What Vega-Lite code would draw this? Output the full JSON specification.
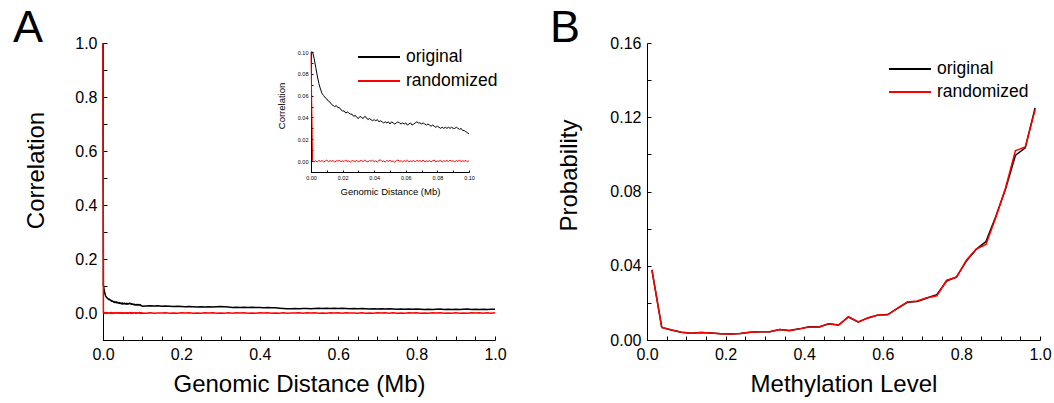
{
  "$schema": "https://vega.github.io/schema/vega-lite/v6.json",
  "background": "white",
  "padding": {"left": 13, "top": 6, "right": 5, "bottom": 5},
  "config": {
    "view": {"stroke": null},
    "font": "Liberation Sans",
    "axis": {
      "grid": false, "domainColor": "#000000", "domainWidth": 1, "tickColor": "#000000", "tickWidth": 1, "tickSize": -4,
      "labelColor": "#000000", "titleColor": "#000000", "labelFont": "Liberation Sans", "titleFont": "Liberation Sans",
      "labelFontSize": 16, "titleFontSize": 24, "titleFontWeight": "normal", "labelPadding": 10,
      "labelFlush": false, "labelOverlap": false, "labelBound": false, "titleBaseline": "alphabetic"
    },
    "legend": {
      "labelFont": "Liberation Sans", "labelFontSize": 17.5, "labelColor": "#000000", "padding": 0,
      "symbolType": "stroke", "symbolSize": 1764, "symbolStrokeWidth": 2, "labelOffset": 5, "rowPadding": 0
    }
  },
  "spacing": 152,
  "bounds": "flush",
  "resolve": {"scale": {"color": "independent"}, "legend": {"color": "independent"}},
  "datasets": {
    "a": [
      {"s":"original","d":0,"v":1.0},
      {"s":"original","d":0.001,"v":0.100},{"s":"original","d":0.002,"v":0.094},{"s":"original","d":0.003,"v":0.086},{"s":"original","d":0.004,"v":0.078},{"s":"original","d":0.005,"v":0.071},
      {"s":"original","d":0.006,"v":0.066},{"s":"original","d":0.007,"v":0.062},{"s":"original","d":0.008,"v":0.060},{"s":"original","d":0.009,"v":0.058},{"s":"original","d":0.010,"v":0.057},
      {"s":"original","d":0.011,"v":0.055},{"s":"original","d":0.012,"v":0.054},{"s":"original","d":0.013,"v":0.052},{"s":"original","d":0.014,"v":0.051},{"s":"original","d":0.015,"v":0.050},
      {"s":"original","d":0.016,"v":0.051},{"s":"original","d":0.017,"v":0.049},{"s":"original","d":0.018,"v":0.049},{"s":"original","d":0.019,"v":0.047},{"s":"original","d":0.020,"v":0.046},
      {"s":"original","d":0.021,"v":0.046},{"s":"original","d":0.022,"v":0.044},{"s":"original","d":0.023,"v":0.045},{"s":"original","d":0.024,"v":0.044},{"s":"original","d":0.025,"v":0.043},
      {"s":"original","d":0.026,"v":0.043},{"s":"original","d":0.027,"v":0.041},{"s":"original","d":0.028,"v":0.042},{"s":"original","d":0.029,"v":0.040},{"s":"original","d":0.030,"v":0.039},
      {"s":"original","d":0.031,"v":0.041},{"s":"original","d":0.032,"v":0.040},{"s":"original","d":0.033,"v":0.039},{"s":"original","d":0.034,"v":0.041},{"s":"original","d":0.035,"v":0.040},
      {"s":"original","d":0.036,"v":0.038},{"s":"original","d":0.037,"v":0.039},{"s":"original","d":0.038,"v":0.038},{"s":"original","d":0.039,"v":0.037},{"s":"original","d":0.040,"v":0.038},
      {"s":"original","d":0.041,"v":0.037},{"s":"original","d":0.042,"v":0.038},{"s":"original","d":0.043,"v":0.036},{"s":"original","d":0.044,"v":0.037},{"s":"original","d":0.045,"v":0.036},
      {"s":"original","d":0.046,"v":0.035},{"s":"original","d":0.047,"v":0.036},{"s":"original","d":0.048,"v":0.035},{"s":"original","d":0.049,"v":0.036},{"s":"original","d":0.050,"v":0.034},
      {"s":"original","d":0.051,"v":0.036},{"s":"original","d":0.052,"v":0.035},{"s":"original","d":0.053,"v":0.034},{"s":"original","d":0.054,"v":0.035},{"s":"original","d":0.055,"v":0.036},
      {"s":"original","d":0.056,"v":0.035},{"s":"original","d":0.057,"v":0.034},{"s":"original","d":0.058,"v":0.035},{"s":"original","d":0.059,"v":0.034},{"s":"original","d":0.060,"v":0.035},
      {"s":"original","d":0.061,"v":0.033},{"s":"original","d":0.062,"v":0.034},{"s":"original","d":0.063,"v":0.035},{"s":"original","d":0.064,"v":0.033},{"s":"original","d":0.065,"v":0.034},
      {"s":"original","d":0.066,"v":0.035},{"s":"original","d":0.067,"v":0.036},{"s":"original","d":0.068,"v":0.035},{"s":"original","d":0.069,"v":0.035},{"s":"original","d":0.070,"v":0.034},
      {"s":"original","d":0.071,"v":0.035},{"s":"original","d":0.072,"v":0.034},{"s":"original","d":0.073,"v":0.033},{"s":"original","d":0.074,"v":0.034},{"s":"original","d":0.075,"v":0.033},
      {"s":"original","d":0.076,"v":0.032},{"s":"original","d":0.077,"v":0.033},{"s":"original","d":0.078,"v":0.032},{"s":"original","d":0.079,"v":0.031},{"s":"original","d":0.080,"v":0.032},
      {"s":"original","d":0.081,"v":0.031},{"s":"original","d":0.082,"v":0.030},{"s":"original","d":0.083,"v":0.031},{"s":"original","d":0.084,"v":0.030},{"s":"original","d":0.085,"v":0.031},
      {"s":"original","d":0.086,"v":0.030},{"s":"original","d":0.087,"v":0.031},{"s":"original","d":0.088,"v":0.030},{"s":"original","d":0.089,"v":0.031},{"s":"original","d":0.090,"v":0.030},
      {"s":"original","d":0.091,"v":0.030},{"s":"original","d":0.092,"v":0.031},{"s":"original","d":0.093,"v":0.030},{"s":"original","d":0.094,"v":0.029},{"s":"original","d":0.095,"v":0.030},
      {"s":"original","d":0.096,"v":0.028},{"s":"original","d":0.097,"v":0.028},{"s":"original","d":0.098,"v":0.027},{"s":"original","d":0.099,"v":0.026},{"s":"original","d":0.100,"v":0.025},
      {"s":"original","d":0.11,"v":0.026},{"s":"original","d":0.12,"v":0.027},{"s":"original","d":0.13,"v":0.026},{"s":"original","d":0.14,"v":0.027},{"s":"original","d":0.15,"v":0.025},
      {"s":"original","d":0.16,"v":0.026},{"s":"original","d":0.17,"v":0.025},{"s":"original","d":0.18,"v":0.024},{"s":"original","d":0.19,"v":0.025},{"s":"original","d":0.20,"v":0.024},
      {"s":"original","d":0.21,"v":0.023},{"s":"original","d":0.22,"v":0.024},{"s":"original","d":0.23,"v":0.023},{"s":"original","d":0.24,"v":0.022},{"s":"original","d":0.25,"v":0.023},
      {"s":"original","d":0.26,"v":0.022},{"s":"original","d":0.27,"v":0.023},{"s":"original","d":0.28,"v":0.022},{"s":"original","d":0.29,"v":0.023},{"s":"original","d":0.30,"v":0.024},
      {"s":"original","d":0.31,"v":0.023},{"s":"original","d":0.32,"v":0.022},{"s":"original","d":0.33,"v":0.020},{"s":"original","d":0.34,"v":0.021},{"s":"original","d":0.35,"v":0.020},
      {"s":"original","d":0.36,"v":0.021},{"s":"original","d":0.37,"v":0.020},{"s":"original","d":0.38,"v":0.021},{"s":"original","d":0.39,"v":0.020},{"s":"original","d":0.40,"v":0.020},
      {"s":"original","d":0.41,"v":0.019},{"s":"original","d":0.42,"v":0.020},{"s":"original","d":0.43,"v":0.019},{"s":"original","d":0.44,"v":0.019},{"s":"original","d":0.45,"v":0.018},
      {"s":"original","d":0.46,"v":0.017},{"s":"original","d":0.47,"v":0.016},{"s":"original","d":0.48,"v":0.016},{"s":"original","d":0.49,"v":0.017},{"s":"original","d":0.50,"v":0.016},
      {"s":"original","d":0.51,"v":0.017},{"s":"original","d":0.52,"v":0.017},{"s":"original","d":0.53,"v":0.016},{"s":"original","d":0.54,"v":0.017},{"s":"original","d":0.55,"v":0.018},
      {"s":"original","d":0.56,"v":0.017},{"s":"original","d":0.57,"v":0.018},{"s":"original","d":0.58,"v":0.017},{"s":"original","d":0.59,"v":0.018},{"s":"original","d":0.60,"v":0.017},
      {"s":"original","d":0.61,"v":0.018},{"s":"original","d":0.62,"v":0.017},{"s":"original","d":0.63,"v":0.016},{"s":"original","d":0.64,"v":0.017},{"s":"original","d":0.65,"v":0.016},
      {"s":"original","d":0.66,"v":0.017},{"s":"original","d":0.67,"v":0.016},{"s":"original","d":0.68,"v":0.015},{"s":"original","d":0.69,"v":0.016},{"s":"original","d":0.70,"v":0.015},
      {"s":"original","d":0.71,"v":0.016},{"s":"original","d":0.72,"v":0.015},{"s":"original","d":0.73,"v":0.016},{"s":"original","d":0.74,"v":0.015},{"s":"original","d":0.75,"v":0.014},
      {"s":"original","d":0.76,"v":0.015},{"s":"original","d":0.77,"v":0.014},{"s":"original","d":0.78,"v":0.015},{"s":"original","d":0.79,"v":0.014},{"s":"original","d":0.80,"v":0.015},
      {"s":"original","d":0.81,"v":0.014},{"s":"original","d":0.82,"v":0.013},{"s":"original","d":0.83,"v":0.014},{"s":"original","d":0.84,"v":0.013},{"s":"original","d":0.85,"v":0.014},
      {"s":"original","d":0.86,"v":0.015},{"s":"original","d":0.87,"v":0.013},{"s":"original","d":0.88,"v":0.014},{"s":"original","d":0.89,"v":0.013},{"s":"original","d":0.90,"v":0.014},
      {"s":"original","d":0.91,"v":0.013},{"s":"original","d":0.92,"v":0.014},{"s":"original","d":0.93,"v":0.015},{"s":"original","d":0.94,"v":0.013},{"s":"original","d":0.95,"v":0.014},
      {"s":"original","d":0.96,"v":0.013},{"s":"original","d":0.97,"v":0.014},{"s":"original","d":0.98,"v":0.013},{"s":"original","d":0.99,"v":0.014},{"s":"original","d":1.00,"v":0.014},
      {"s":"randomized","d":0,"v":1.0},
      {"s":"randomized","d":0.001,"v":0.0004},{"s":"randomized","d":0.002,"v":-0.0006},{"s":"randomized","d":0.003,"v":0.0002},{"s":"randomized","d":0.004,"v":-0.0009},{"s":"randomized","d":0.005,"v":0.0007},
      {"s":"randomized","d":0.006,"v":-0.0003},{"s":"randomized","d":0.007,"v":0.0005},{"s":"randomized","d":0.008,"v":-0.0008},{"s":"randomized","d":0.009,"v":0.0001},{"s":"randomized","d":0.010,"v":0.0009},
      {"s":"randomized","d":0.011,"v":-0.0005},{"s":"randomized","d":0.012,"v":0.0003},{"s":"randomized","d":0.013,"v":-0.0002},{"s":"randomized","d":0.014,"v":0.0006},{"s":"randomized","d":0.015,"v":-0.0010},
      {"s":"randomized","d":0.016,"v":0.0004},{"s":"randomized","d":0.017,"v":-0.0001},{"s":"randomized","d":0.018,"v":0.0008},{"s":"randomized","d":0.019,"v":-0.0007},{"s":"randomized","d":0.020,"v":0.0002},
      {"s":"randomized","d":0.021,"v":-0.0004},{"s":"randomized","d":0.022,"v":0.0011},{"s":"randomized","d":0.023,"v":-0.0006},{"s":"randomized","d":0.024,"v":0.0003},{"s":"randomized","d":0.025,"v":-0.0009},
      {"s":"randomized","d":0.026,"v":0.0005},{"s":"randomized","d":0.027,"v":0.0000},{"s":"randomized","d":0.028,"v":-0.0003},{"s":"randomized","d":0.029,"v":0.0007},{"s":"randomized","d":0.030,"v":-0.0008},
      {"s":"randomized","d":0.031,"v":0.0002},{"s":"randomized","d":0.032,"v":0.0006},{"s":"randomized","d":0.033,"v":-0.0005},{"s":"randomized","d":0.034,"v":0.0009},{"s":"randomized","d":0.035,"v":-0.0002},
      {"s":"randomized","d":0.036,"v":-0.0007},{"s":"randomized","d":0.037,"v":0.0004},{"s":"randomized","d":0.038,"v":-0.0001},{"s":"randomized","d":0.039,"v":0.0008},{"s":"randomized","d":0.040,"v":-0.0006},
      {"s":"randomized","d":0.041,"v":0.0003},{"s":"randomized","d":0.042,"v":-0.0009},{"s":"randomized","d":0.043,"v":0.0005},{"s":"randomized","d":0.044,"v":0.0012},{"s":"randomized","d":0.045,"v":-0.0004},
      {"s":"randomized","d":0.046,"v":0.0001},{"s":"randomized","d":0.047,"v":-0.0008},{"s":"randomized","d":0.048,"v":0.0006},{"s":"randomized","d":0.049,"v":-0.0003},{"s":"randomized","d":0.050,"v":0.0007},
      {"s":"randomized","d":0.051,"v":-0.0005},{"s":"randomized","d":0.052,"v":0.0002},{"s":"randomized","d":0.053,"v":-0.0010},{"s":"randomized","d":0.054,"v":0.0004},{"s":"randomized","d":0.055,"v":0.0009},
      {"s":"randomized","d":0.056,"v":-0.0002},{"s":"randomized","d":0.057,"v":0.0003},{"s":"randomized","d":0.058,"v":-0.0007},{"s":"randomized","d":0.059,"v":0.0005},{"s":"randomized","d":0.060,"v":-0.0004},
      {"s":"randomized","d":0.061,"v":0.0008},{"s":"randomized","d":0.062,"v":-0.0006},{"s":"randomized","d":0.063,"v":0.0001},{"s":"randomized","d":0.064,"v":-0.0003},{"s":"randomized","d":0.065,"v":0.0006},
      {"s":"randomized","d":0.066,"v":-0.0009},{"s":"randomized","d":0.067,"v":0.0007},{"s":"randomized","d":0.068,"v":-0.0001},{"s":"randomized","d":0.069,"v":0.0004},{"s":"randomized","d":0.070,"v":-0.0005},
      {"s":"randomized","d":0.071,"v":0.0010},{"s":"randomized","d":0.072,"v":-0.0007},{"s":"randomized","d":0.073,"v":0.0002},{"s":"randomized","d":0.074,"v":-0.0004},{"s":"randomized","d":0.075,"v":0.0005},
      {"s":"randomized","d":0.076,"v":-0.0008},{"s":"randomized","d":0.077,"v":0.0003},{"s":"randomized","d":0.078,"v":0.0009},{"s":"randomized","d":0.079,"v":-0.0006},{"s":"randomized","d":0.080,"v":0.0001},
      {"s":"randomized","d":0.081,"v":-0.0002},{"s":"randomized","d":0.082,"v":0.0007},{"s":"randomized","d":0.083,"v":-0.0009},{"s":"randomized","d":0.084,"v":0.0004},{"s":"randomized","d":0.085,"v":-0.0003},
      {"s":"randomized","d":0.086,"v":0.0006},{"s":"randomized","d":0.087,"v":-0.0005},{"s":"randomized","d":0.088,"v":0.0008},{"s":"randomized","d":0.089,"v":-0.0001},{"s":"randomized","d":0.090,"v":0.0002},
      {"s":"randomized","d":0.091,"v":-0.0007},{"s":"randomized","d":0.092,"v":0.0005},{"s":"randomized","d":0.093,"v":-0.0004},{"s":"randomized","d":0.094,"v":0.0011},{"s":"randomized","d":0.095,"v":-0.0006},
      {"s":"randomized","d":0.096,"v":0.0003},{"s":"randomized","d":0.097,"v":-0.0002},{"s":"randomized","d":0.098,"v":0.0007},{"s":"randomized","d":0.099,"v":-0.0008},{"s":"randomized","d":0.100,"v":0.0004},
      {"s":"randomized","d":0.11,"v":-0.0005},{"s":"randomized","d":0.12,"v":0.0008},{"s":"randomized","d":0.13,"v":-0.0010},{"s":"randomized","d":0.14,"v":0.0003},{"s":"randomized","d":0.15,"v":-0.0002},
      {"s":"randomized","d":0.16,"v":0.0009},{"s":"randomized","d":0.17,"v":-0.0007},{"s":"randomized","d":0.18,"v":0.0004},{"s":"randomized","d":0.19,"v":-0.0011},{"s":"randomized","d":0.20,"v":0.0006},
      {"s":"randomized","d":0.21,"v":-0.0003},{"s":"randomized","d":0.22,"v":0.0010},{"s":"randomized","d":0.23,"v":-0.0006},{"s":"randomized","d":0.24,"v":0.0002},{"s":"randomized","d":0.25,"v":-0.0009},
      {"s":"randomized","d":0.26,"v":0.0007},{"s":"randomized","d":0.27,"v":-0.0004},{"s":"randomized","d":0.28,"v":0.0012},{"s":"randomized","d":0.29,"v":-0.0008},{"s":"randomized","d":0.30,"v":0.0001},
      {"s":"randomized","d":0.31,"v":-0.0006},{"s":"randomized","d":0.32,"v":0.0009},{"s":"randomized","d":0.33,"v":-0.0012},{"s":"randomized","d":0.34,"v":0.0005},{"s":"randomized","d":0.35,"v":-0.0002},
      {"s":"randomized","d":0.36,"v":0.0008},{"s":"randomized","d":0.37,"v":-0.0007},{"s":"randomized","d":0.38,"v":0.0003},{"s":"randomized","d":0.39,"v":-0.0010},{"s":"randomized","d":0.40,"v":0.0011},
      {"s":"randomized","d":0.41,"v":-0.0004},{"s":"randomized","d":0.42,"v":0.0006},{"s":"randomized","d":0.43,"v":-0.0009},{"s":"randomized","d":0.44,"v":0.0002},{"s":"randomized","d":0.45,"v":-0.0005},
      {"s":"randomized","d":0.46,"v":0.0010},{"s":"randomized","d":0.47,"v":-0.0008},{"s":"randomized","d":0.48,"v":0.0004},{"s":"randomized","d":0.49,"v":-0.0001},{"s":"randomized","d":0.50,"v":0.0007},
      {"s":"randomized","d":0.51,"v":-0.0011},{"s":"randomized","d":0.52,"v":0.0005},{"s":"randomized","d":0.53,"v":-0.0003},{"s":"randomized","d":0.54,"v":0.0009},{"s":"randomized","d":0.55,"v":-0.0006},
      {"s":"randomized","d":0.56,"v":0.0002},{"s":"randomized","d":0.57,"v":-0.0010},{"s":"randomized","d":0.58,"v":0.0008},{"s":"randomized","d":0.59,"v":-0.0004},{"s":"randomized","d":0.60,"v":0.0006},
      {"s":"randomized","d":0.61,"v":-0.0007},{"s":"randomized","d":0.62,"v":0.0011},{"s":"randomized","d":0.63,"v":-0.0002},{"s":"randomized","d":0.64,"v":0.0004},{"s":"randomized","d":0.65,"v":-0.0009},
      {"s":"randomized","d":0.66,"v":0.0007},{"s":"randomized","d":0.67,"v":-0.0005},{"s":"randomized","d":0.68,"v":0.0003},{"s":"randomized","d":0.69,"v":-0.0012},{"s":"randomized","d":0.70,"v":0.0009},
      {"s":"randomized","d":0.71,"v":-0.0003},{"s":"randomized","d":0.72,"v":0.0005},{"s":"randomized","d":0.73,"v":-0.0008},{"s":"randomized","d":0.74,"v":0.0010},{"s":"randomized","d":0.75,"v":-0.0006},
      {"s":"randomized","d":0.76,"v":0.0001},{"s":"randomized","d":0.77,"v":-0.0010},{"s":"randomized","d":0.78,"v":0.0007},{"s":"randomized","d":0.79,"v":-0.0004},{"s":"randomized","d":0.80,"v":0.0012},
      {"s":"randomized","d":0.81,"v":-0.0007},{"s":"randomized","d":0.82,"v":0.0003},{"s":"randomized","d":0.83,"v":-0.0011},{"s":"randomized","d":0.84,"v":0.0006},{"s":"randomized","d":0.85,"v":-0.0002},
      {"s":"randomized","d":0.86,"v":0.0009},{"s":"randomized","d":0.87,"v":-0.0009},{"s":"randomized","d":0.88,"v":0.0004},{"s":"randomized","d":0.89,"v":-0.0005},{"s":"randomized","d":0.90,"v":0.0011},
      {"s":"randomized","d":0.91,"v":-0.0008},{"s":"randomized","d":0.92,"v":0.0002},{"s":"randomized","d":0.93,"v":-0.0012},{"s":"randomized","d":0.94,"v":0.0008},{"s":"randomized","d":0.95,"v":-0.0003},
      {"s":"randomized","d":0.96,"v":0.0010},{"s":"randomized","d":0.97,"v":-0.0007},{"s":"randomized","d":0.98,"v":0.0005},{"s":"randomized","d":0.99,"v":-0.0010},{"s":"randomized","d":1.00,"v":0.0006}
    ],
    "b": [
      {"s":"original","m":0.0125,"p":0.0378},{"s":"original","m":0.0375,"p":0.0068},{"s":"original","m":0.0625,"p":0.0054},{"s":"original","m":0.0875,"p":0.0042},
      {"s":"original","m":0.1125,"p":0.0037},{"s":"original","m":0.1375,"p":0.0040},{"s":"original","m":0.1625,"p":0.0038},{"s":"original","m":0.1875,"p":0.0034},
      {"s":"original","m":0.2125,"p":0.0032},{"s":"original","m":0.2375,"p":0.0035},{"s":"original","m":0.2625,"p":0.0042},{"s":"original","m":0.2875,"p":0.0045},
      {"s":"original","m":0.3125,"p":0.0044},{"s":"original","m":0.3375,"p":0.0056},{"s":"original","m":0.3625,"p":0.0051},{"s":"original","m":0.3875,"p":0.0060},
      {"s":"original","m":0.4125,"p":0.0071},{"s":"original","m":0.4375,"p":0.0070},{"s":"original","m":0.4625,"p":0.0087},{"s":"original","m":0.4875,"p":0.0081},
      {"s":"original","m":0.5125,"p":0.0124},{"s":"original","m":0.5375,"p":0.0097},{"s":"original","m":0.5625,"p":0.0119},{"s":"original","m":0.5875,"p":0.0134},
      {"s":"original","m":0.6125,"p":0.0137},{"s":"original","m":0.6375,"p":0.0170},{"s":"original","m":0.6625,"p":0.0203},{"s":"original","m":0.6875,"p":0.0207},
      {"s":"original","m":0.7125,"p":0.0226},{"s":"original","m":0.7375,"p":0.0244},{"s":"original","m":0.7625,"p":0.0318},{"s":"original","m":0.7875,"p":0.0340},
      {"s":"original","m":0.8125,"p":0.0425},{"s":"original","m":0.8375,"p":0.0488},{"s":"original","m":0.8625,"p":0.0530},{"s":"original","m":0.8875,"p":0.0665},
      {"s":"original","m":0.9125,"p":0.0815},{"s":"original","m":0.9375,"p":0.0995},{"s":"original","m":0.9625,"p":0.1035},{"s":"original","m":0.9875,"p":0.1250},
      {"s":"randomized","m":0.0125,"p":0.0378},{"s":"randomized","m":0.0375,"p":0.0068},{"s":"randomized","m":0.0625,"p":0.0054},{"s":"randomized","m":0.0875,"p":0.0042},
      {"s":"randomized","m":0.1125,"p":0.0037},{"s":"randomized","m":0.1375,"p":0.0040},{"s":"randomized","m":0.1625,"p":0.0038},{"s":"randomized","m":0.1875,"p":0.0034},
      {"s":"randomized","m":0.2125,"p":0.0032},{"s":"randomized","m":0.2375,"p":0.0035},{"s":"randomized","m":0.2625,"p":0.0042},{"s":"randomized","m":0.2875,"p":0.0045},
      {"s":"randomized","m":0.3125,"p":0.0044},{"s":"randomized","m":0.3375,"p":0.0057},{"s":"randomized","m":0.3625,"p":0.0050},{"s":"randomized","m":0.3875,"p":0.0060},
      {"s":"randomized","m":0.4125,"p":0.0070},{"s":"randomized","m":0.4375,"p":0.0069},{"s":"randomized","m":0.4625,"p":0.0088},{"s":"randomized","m":0.4875,"p":0.0080},
      {"s":"randomized","m":0.5125,"p":0.0126},{"s":"randomized","m":0.5375,"p":0.0096},{"s":"randomized","m":0.5625,"p":0.0120},{"s":"randomized","m":0.5875,"p":0.0135},
      {"s":"randomized","m":0.6125,"p":0.0136},{"s":"randomized","m":0.6375,"p":0.0172},{"s":"randomized","m":0.6625,"p":0.0205},{"s":"randomized","m":0.6875,"p":0.0210},
      {"s":"randomized","m":0.7125,"p":0.0228},{"s":"randomized","m":0.7375,"p":0.0238},{"s":"randomized","m":0.7625,"p":0.0322},{"s":"randomized","m":0.7875,"p":0.0338},
      {"s":"randomized","m":0.8125,"p":0.0430},{"s":"randomized","m":0.8375,"p":0.0490},{"s":"randomized","m":0.8625,"p":0.0515},{"s":"randomized","m":0.8875,"p":0.0660},
      {"s":"randomized","m":0.9125,"p":0.0820},{"s":"randomized","m":0.9375,"p":0.1020},{"s":"randomized","m":0.9625,"p":0.1040},{"s":"randomized","m":0.9875,"p":0.1240}
    ]
  },
  "hconcat": [
    {
      "width": 392,
      "height": 297,
      "title": {"text": "A", "anchor": "start", "frame": "group", "dx": -90, "dy": 49, "offset": -3, "baseline": "alphabetic", "fontSize": 45, "fontWeight": "normal", "font": "Liberation Sans", "color": "#000000"},
      "data": {"name": "a"},
      "layer": [
        {
          "mark": {"type": "line", "strokeWidth": 1.5},
          "encoding": {
            "x": {"field": "d", "type": "quantitative", "scale": {"domain": [0, 1], "nice": false},
              "axis": {"title": "Genomic Distance (Mb)", "titleY": 51,
                "values": [0,0.05,0.1,0.15,0.2,0.25,0.3,0.35,0.4,0.45,0.5,0.55,0.6,0.65,0.7,0.75,0.8,0.85,0.9,0.95,1],
                "labelExpr": "round(datum.value*100) % 20 == 0 ? format(datum.value, '.1f') : ''"}},
            "y": {"field": "v", "type": "quantitative", "scale": {"domain": [-0.1, 1], "nice": false},
              "axis": {"title": "Correlation", "titleX": -60, "titleY": 127,
                "values": [-0.1,0,0.1,0.2,0.3,0.4,0.5,0.6,0.7,0.8,0.9,1],
                "labelExpr": "datum.value >= 0 && round(datum.value*100) % 20 == 0 ? format(datum.value, '.1f') : ''"}},
            "color": {"field": "s", "type": "nominal", "scale": {"domain": ["original", "randomized"], "range": ["#000000", "#ff0000"]},
              "legend": {"title": null, "orient": "none", "legendX": 254, "legendY": 2, "clipHeight": 24, "rowPadding": 0}}
          }
        },
        {
          "transform": [{"filter": "datum.d <= 0.1"}],
          "mark": {"type": "line", "strokeWidth": 1},
          "encoding": {
            "x": {"field": "d", "type": "quantitative", "scale": {"domain": [0, 0.1], "nice": false, "range": [208, 366]},
              "axis": {"orient": "bottom", "offset": -168, "title": "Genomic Distance (Mb)", "titleFontSize": 9.5, "titleY": 22,
                "labelFontSize": 5.5, "tickSize": -2, "labelPadding": 5,
                "values": [0,0.01,0.02,0.03,0.04,0.05,0.06,0.07,0.08,0.09,0.1],
                "labelExpr": "round(datum.value*1000) % 20 == 0 ? format(datum.value, '.2f') : ''"}},
            "y": {"field": "v", "type": "quantitative", "scale": {"domain": [-0.01, 0.1], "nice": false, "range": [129, 9], "clamp": true},
              "axis": {"orient": "left", "offset": -208, "title": "Correlation", "titleFontSize": 9.5, "titleX": -27, "titleY": 62.5,
                "labelFontSize": 5.5, "tickSize": -2, "labelPadding": 5,
                "values": [-0.01,0,0.01,0.02,0.03,0.04,0.05,0.06,0.07,0.08,0.09,0.1],
                "labelExpr": "datum.value > -0.005 && round(datum.value*1000) % 20 == 0 ? format(datum.value, '.2f') : ''"}},
            "color": {"field": "s", "type": "nominal", "legend": null}
          }
        }
      ],
      "resolve": {"scale": {"x": "independent", "y": "independent"}, "axis": {"x": "independent", "y": "independent"}}
    },
    {
      "width": 393,
      "height": 297,
      "title": {"text": "B", "anchor": "start", "frame": "group", "dx": -97, "dy": 49, "offset": -3, "baseline": "alphabetic", "fontSize": 45, "fontWeight": "normal", "font": "Liberation Sans", "color": "#000000"},
      "data": {"name": "b"},
      "mark": {"type": "line", "strokeWidth": 1.5},
      "encoding": {
        "x": {"field": "m", "type": "quantitative", "scale": {"domain": [0, 1], "nice": false},
          "axis": {"title": "Methylation Level", "titleY": 51,
            "values": [0,0.05,0.1,0.15,0.2,0.25,0.3,0.35,0.4,0.45,0.5,0.55,0.6,0.65,0.7,0.75,0.8,0.85,0.9,0.95,1],
            "labelExpr": "round(datum.value*100) % 20 == 0 ? format(datum.value, '.1f') : ''"}},
        "y": {"field": "p", "type": "quantitative", "scale": {"domain": [0, 0.16], "nice": false},
          "axis": {"title": "Probability", "titleX": -71, "titleY": 132,
            "values": [0,0.02,0.04,0.06,0.08,0.1,0.12,0.14,0.16],
            "labelExpr": "round(datum.value*100) % 4 == 0 ? format(datum.value, '.2f') : ''"}},
        "color": {"field": "s", "type": "nominal", "scale": {"domain": ["original", "randomized"], "range": ["#000000", "#ff0000"]},
          "legend": {"title": null, "orient": "none", "legendX": 241, "legendY": 14.5, "clipHeight": 23, "rowPadding": 0}}
      }
    }
  ]
}
